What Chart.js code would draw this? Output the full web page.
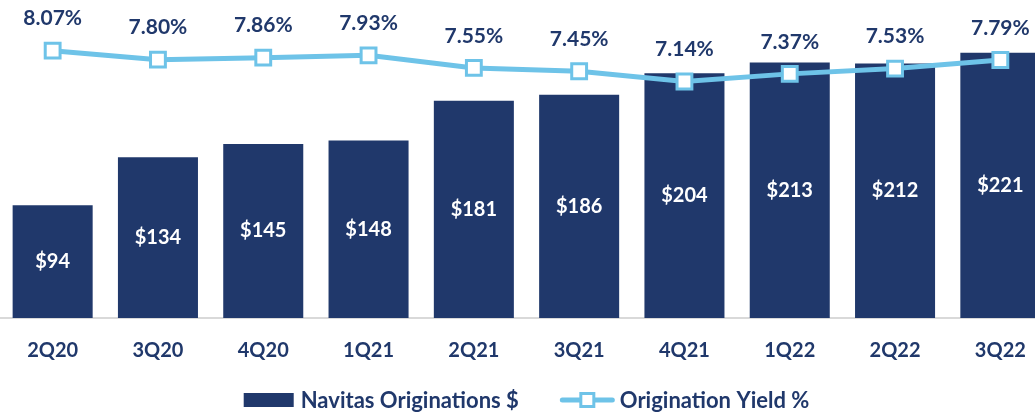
<!DOCTYPE html>
<html>
<head>
<meta charset="utf-8">
<script src="https://cdn.jsdelivr.net/npm/chart.js"></script>
<style>
  html, body { margin: 0; padding: 0; background: #fff; overflow: hidden; }
  #wrap { position: relative; width: 1053px; height: 413px; }
</style>
</head>
<body>
<div id="wrap"><canvas id="originationsChart"></canvas></div>
<script>
  const quarters = ['2Q20', '3Q20', '4Q20', '1Q21', '2Q21', '3Q21', '4Q21', '1Q22', '2Q22', '3Q22'];
  const originations = [94, 134, 145, 148, 181, 186, 204, 213, 212, 221];
  const yieldPct = [8.07, 7.80, 7.86, 7.93, 7.55, 7.45, 7.14, 7.37, 7.53, 7.79];

  const NAVY = '#20386B';
  const SKY = '#6EC3E8';
  const FONT = 'Lato, "Open Sans", sans-serif';

  // numbers on bars and above the line points
  const valueLabels = {
    id: 'valueLabels',
    afterDatasetsDraw(chart) {
      const ctx = chart.ctx;
      ctx.save();
      ctx.textAlign = 'center';
      ctx.textBaseline = 'middle';

      const bars = chart.getDatasetMeta(0).data;
      ctx.font = 'bold 20px ' + FONT;
      ctx.fillStyle = '#fff';
      bars.forEach((b, i) => {
        ctx.fillText('$' + originations[i], b.x, (b.y + b.base) / 2);
      });

      const pts = chart.getDatasetMeta(1).data;
      ctx.font = 'bold 21px ' + FONT;
      ctx.fillStyle = NAVY;
      pts.forEach((p, i) => {
        ctx.fillText(yieldPct[i].toFixed(2) + '%', p.x, p.y - 32);
      });
      ctx.restore();
    }
  };

  // legend drawn by hand: bar swatch, then line with square marker
  const bottomLegend = {
    id: 'bottomLegend',
    afterDraw(chart) {
      const ctx = chart.ctx;
      const ds = chart.data.datasets;
      const y = 400;
      ctx.save();
      ctx.font = 'bold 22px ' + FONT;
      ctx.textBaseline = 'middle';
      ctx.textAlign = 'left';
      const w1 = ctx.measureText(ds[0].label).width;
      const w2 = ctx.measureText(ds[1].label).width;
      const total = 50 + 7 + w1 + 41 + 55 + 5 + w2;
      const mid = (chart.chartArea.left + chart.chartArea.right) / 2;
      let x = mid - total / 2;

      ctx.fillStyle = NAVY;
      ctx.fillRect(x, y - 7, 50, 14);
      x += 57;
      ctx.fillText(ds[0].label, x, y + 1);
      x += w1 + 41;

      ctx.strokeStyle = SKY;
      ctx.lineWidth = 5;
      ctx.lineCap = 'round';
      ctx.beginPath();
      ctx.moveTo(x + 2.5, y);
      ctx.lineTo(x + 52.5, y);
      ctx.stroke();
      ctx.fillStyle = '#fff';
      ctx.lineWidth = 3;
      ctx.fillRect(x + 21, y - 6.5, 13, 13);
      ctx.strokeRect(x + 21, y - 6.5, 13, 13);
      x += 60;
      ctx.fillStyle = NAVY;
      ctx.fillText(ds[1].label, x, y + 1);
      ctx.restore();
    }
  };

  new Chart(document.getElementById('originationsChart'), {
    type: 'bar',
    data: {
      labels: quarters,
      datasets: [
        {
          type: 'bar',
          label: 'Navitas Originations $',
          data: originations,
          backgroundColor: NAVY,
          categoryPercentage: 0.76,
          barPercentage: 1,
          yAxisID: 'y',
          order: 2
        },
        {
          type: 'line',
          label: 'Origination Yield %',
          data: yieldPct,
          borderColor: SKY,
          borderWidth: 5,
          pointStyle: 'rect',
          pointRadius: 10.5,
          pointBorderWidth: 3,
          pointBackgroundColor: '#fff',
          pointBorderColor: SKY,
          tension: 0,
          yAxisID: 'y2',
          order: 1
        }
      ]
    },
    options: {
      responsive: true,
      maintainAspectRatio: false,
      animation: false,
      layout: { autoPadding: false, padding: { top: 0, left: 0, right: 0, bottom: 37 } },
      scales: {
        x: {
          grid: { display: false },
          border: { display: true, color: '#D9D9D9', width: 2 },
          ticks: { color: NAVY, font: { family: FONT, size: 20, weight: 'bold' }, padding: 13 }
        },
        y: { display: false, min: 0, max: 265 },
        y2: { display: false, min: 0, max: 9.6 }
      },
      plugins: {
        legend: { display: false },
        tooltip: { enabled: false }
      }
    },
    plugins: [valueLabels, bottomLegend]
  });
</script>
</body>
</html>
